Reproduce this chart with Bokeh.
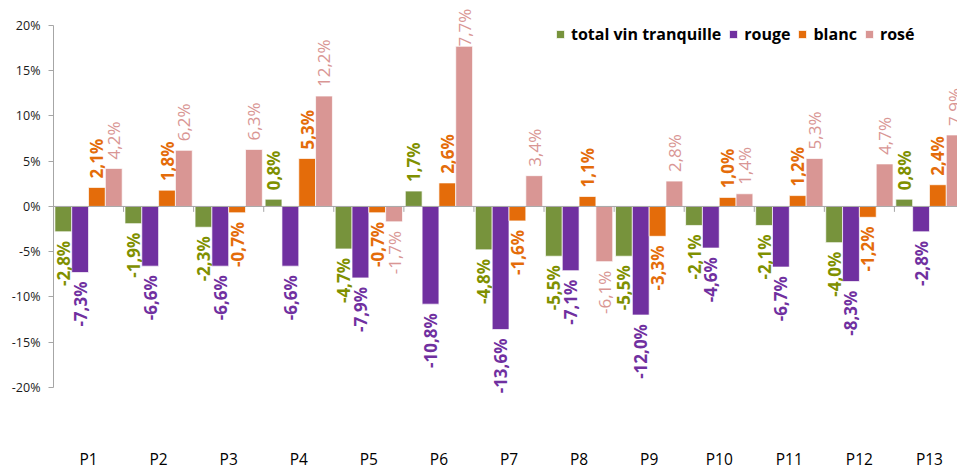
import math
from bokeh.plotting import figure
from bokeh.models import (ColumnDataSource, LabelSet, Legend, LegendItem, Span,
                          FixedTicker, PrintfTickFormatter, Range1d)
from bokeh.core.properties import value
from bokeh.transform import dodge
from bokeh.embed import file_html
from bokeh.resources import INLINE

periods = ["P1", "P2", "P3", "P4", "P5", "P6", "P7", "P8", "P9", "P10", "P11", "P12", "P13"]
total = [-2.8, -1.9, -2.3, 0.8, -4.7, 1.7, -4.8, -5.5, -5.5, -2.1, -2.1, -4.0, 0.8]
rouge = [-7.3, -6.6, -6.6, -6.6, -7.9, -10.8, -13.6, -7.1, -12.0, -4.6, -6.7, -8.3, -2.8]
blanc = [2.1, 1.8, -0.7, 5.3, -0.7, 2.6, -1.6, 1.1, -3.3, 1.0, 1.2, -1.2, 2.4]
rose = [4.2, 6.2, 6.3, 12.2, -1.7, 17.7, 3.4, -6.1, 2.8, 1.4, 5.3, 4.7, 7.9]
y_ticks = [-20, -15, -10, -5, 0, 5, 10, 15, 20]

series_names = ["total vin tranquille", "rouge", "blanc", "rosé"]
series_values = [total, rouge, blanc, rose]
bar_colors = ["#77933c", "#7030a0", "#e46c0a", "#d99694"]
label_colors = ["#7f9000", "#7030a0", "#e46c0a", "#d99694"]
label_styles = ["bold", "bold", "bold", "normal"]
offsets = [-0.36, -0.12, 0.12, 0.36]
BAR_W = 0.24
PAD = 1.0          # gap between bar end and its label (data units, ~9px)
LABEL_LEN = 5.5    # approximate label length (data units)
Y_MIN, Y_MAX = -22, 22.76
TOP_LIMIT = Y_MAX - 0.9

FONT = "Open Sans"

centers = [i + 0.5 for i in range(len(periods))]

p = figure(width=957, height=472, output_backend="svg", toolbar_location=None,
           x_range=Range1d(0, 12.9), y_range=Range1d(Y_MIN, Y_MAX),
           min_border_left=53, min_border_right=0, min_border_top=0, min_border_bottom=67)
p.outline_line_color = None
p.xgrid.grid_line_color = None
p.ygrid.grid_line_color = None
p.background_fill_color = "white"
p.border_fill_color = "white"

# y axis
p.yaxis.ticker = FixedTicker(ticks=y_ticks)
p.yaxis.bounds = (-20, 20)
p.yaxis.formatter = PrintfTickFormatter(format="%d%%")
p.yaxis.minor_tick_line_color = None
p.yaxis.major_tick_in = 0
p.yaxis.major_tick_out = 5
p.yaxis.major_tick_line_color = "#a6a6a6"
p.yaxis.axis_line_color = "#a6a6a6"
p.yaxis.major_label_standoff = 8
p.yaxis.major_label_text_font = FONT
p.yaxis.major_label_text_font_size = "12.5px"
p.yaxis.major_label_text_color = "#1a1a1a"

# x axis (category labels at the bottom)
p.xaxis.ticker = FixedTicker(ticks=centers)
p.xaxis.major_label_overrides = {c: name for c, name in zip(centers, periods)}
p.xaxis.axis_line_color = None
p.xaxis.major_tick_line_color = None
p.xaxis.minor_tick_line_color = None
p.xaxis.major_tick_in = 0
p.xaxis.major_tick_out = 0
p.xaxis.major_label_standoff = 42
p.xaxis.major_label_text_font = FONT
p.xaxis.major_label_text_font_size = "15.5px"
p.xaxis.major_label_text_color = "#000000"

# zero line + group tick marks
p.add_layout(Span(location=0, dimension="width", line_color="#a6a6a6", line_width=1))
bounds = ColumnDataSource(dict(b=[i for i in range(1, len(periods))]))
p.segment(x0="b", y0=0, x1="b", y1=-0.6, source=bounds, line_color="#a6a6a6", line_width=1)

legend_items = []
for name, vals, bc, lc, ls, off in zip(series_names, series_values, bar_colors,
                                         label_colors, label_styles, offsets):
    src = ColumnDataSource(dict(x=centers, v=vals))
    r = p.vbar(x=dodge("x", off), top="v", bottom=0, width=BAR_W, source=src,
               fill_color=bc, line_color="white", line_width=0.7)
    legend_items.append(LegendItem(label=name, renderers=[r]))

    groups = {"pos": ([], []), "neg": ([], []), "top": ([], [])}
    for c, v in zip(centers, vals):
        txt = ("%.1f" % v).replace(".", ",") + "%"
        if v < 0:
            key, y = "neg", v - PAD
        elif v + PAD + LABEL_LEN > TOP_LIMIT:
            key, y = "top", TOP_LIMIT
        else:
            key, y = "pos", v + PAD
        groups[key][0].append((c, y))
        groups[key][1].append(txt)
    for key, (pts, txts) in groups.items():
        if not pts:
            continue
        lsrc = ColumnDataSource(dict(x=[a for a, _ in pts], y=[b for _, b in pts], t=txts))
        p.add_layout(LabelSet(x=dodge("x", off), y="y", text="t", source=lsrc,
                              angle=math.pi / 2,
                              text_align="left" if key == "pos" else "right",
                              text_baseline="middle", text_font=value(FONT),
                              text_font_size="17px", text_font_style=ls, text_color=lc,
                              level="underlay" if key == "top" else "annotation"))

legend = Legend(items=legend_items, orientation="horizontal", location=(502, 360),
                glyph_width=10, glyph_height=10, label_standoff=6, spacing=7,
                padding=0, margin=0, border_line_color=None, background_fill_alpha=0,
                label_text_font=FONT, label_text_font_size="16px",
                label_text_font_style="bold", label_text_color="#000000",
                label_height=20)
p.add_layout(legend)

open("out.html", "w").write(file_html(p, INLINE))
